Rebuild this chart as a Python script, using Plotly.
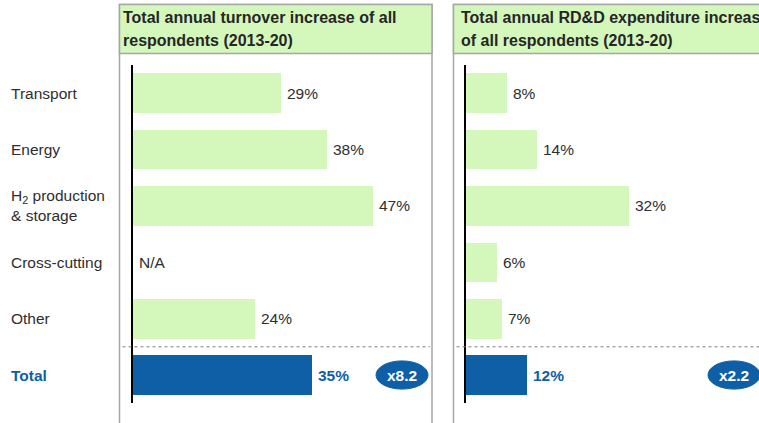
import plotly.graph_objects as go

W, H = 759, 423

categories = ['Transport', 'Energy', 'H<sub>2</sub> production<br>& storage',
              'Cross-cutting', 'Other', 'Total']
turnover = [29, 38, 47, None, 24, 35]
rdd = [8, 14, 32, 6, 7, 12]
multipliers = ['x8.2', 'x2.2']
titles = [['Total annual turnover increase of all', 'respondents (2013-20)'],
          ['Total annual RD&D expenditure increase', 'of all respondents (2013-20)']]

GREEN = '#D4F7BC'
BLUE = '#0F5FA6'
TXT = '#2E2E2E'
FONT = 'Arial, Liberation Sans, sans-serif'


def px(x):
    return x / W


def py(y):
    return 1 - y / H


ypos = list(range(len(categories)))
n_total = len(categories) - 1

fig = go.Figure()
shapes = []
annotations = []

# panel geometry (pixels): box left, box right, axis x, title x, ellipse centre
panels = [
    dict(box=(119.5, 432), axis=133, tx=123, ell=402, xa='x', ya='y', data=turnover),
    dict(box=(453.5, 800), axis=466, tx=461, ell=734, xa='x2', ya='y2', data=rdd),
]
scale = 5.1  # pixels per percent

for k, p in enumerate(panels):
    vals = p['data']
    colors = [BLUE if i == n_total else GREEN for i in ypos]
    fig.add_trace(go.Bar(
        x=[v if v is not None else 0 for v in vals], y=ypos, orientation='h',
        width=0.7, marker=dict(color=colors, line=dict(width=0)),
        xaxis=p['xa'], yaxis=p['ya'], hoverinfo='skip', showlegend=False,
    ))
    # value labels
    for i, v in enumerate(vals):
        tot = i == n_total
        label = 'N/A' if v is None else f'{v}%'
        annotations.append(dict(
            x=v or 0, y=i, xref=p['xa'], yref=p['ya'], text=f'<b>{label}</b>' if tot else label,
            showarrow=False, xanchor='left', yanchor='middle', xshift=4,
            font=dict(family=FONT, size=15.5, color=BLUE if tot else TXT)))

    # box + header
    x0, x1 = p['box']
    shapes.append(dict(type='rect', xref='paper', yref='paper', x0=px(x0), x1=px(x1),
                       y0=py(440), y1=py(4.5), line=dict(color='#A6A6A6', width=1.5),
                       fillcolor='rgba(0,0,0,0)', layer='below'))
    shapes.append(dict(type='rect', xref='paper', yref='paper', x0=px(x0), x1=px(x1),
                       y0=py(53.5), y1=py(4.5), line=dict(color='#A6A6A6', width=1.5),
                       fillcolor=GREEN, layer='below'))
    for j, line in enumerate(titles[k]):
        annotations.append(dict(
            x=px(p['tx']), y=py(18 + 22 * j), xref='paper', yref='paper',
            text=f'<b>{line}</b>', showarrow=False, xanchor='left', yanchor='middle',
            xshift=-2, font=dict(family=FONT, size=16, color='#262626')))

    # dashed separator before Total
    shapes.append(dict(type='line', xref='paper', yref=p['ya'],
                       x0=px(x0 + 3), x1=px(x1 - 2), y0=n_total - 0.5, y1=n_total - 0.5,
                       line=dict(color='#808080', width=1, dash='3px,3px')))

    # multiplier ellipse
    shapes.append(dict(type='circle', xref='paper', yref=p['ya'],
                       x0=px(p['ell'] - 26), x1=px(p['ell'] + 26),
                       y0=n_total - 0.25, y1=n_total + 0.25,
                       fillcolor=BLUE, line=dict(color=BLUE, width=1)))
    annotations.append(dict(
        x=px(p['ell']), y=n_total, xref='paper', yref=p['ya'],
        text=f'<b>{multipliers[k]}</b>', showarrow=False,
        xanchor='center', yanchor='middle',
        font=dict(family=FONT, size=15.5, color='white')))

# category labels
for i, c in enumerate(categories):
    tot = i == n_total
    annotations.append(dict(
        x=px(11), y=i, xref='paper', yref='y', text=f'<b>{c}</b>' if tot else c,
        showarrow=False, xanchor='left', yanchor='middle', align='left', xshift=-2,
        font=dict(family=FONT, size=15.5, color=BLUE if tot else TXT)))

ydom = [py(403.2), py(64.8)]
yax = dict(range=[5.5, -0.5], domain=ydom, showline=True, linecolor='black',
           linewidth=2, showticklabels=False, showgrid=False, zeroline=False, ticks='')
xax = dict(showline=False, showticklabels=False, showgrid=False, zeroline=False, ticks='')

fig.update_layout(
    width=W, height=H,
    margin=dict(l=0, r=0, t=0, b=0),
    paper_bgcolor='white', plot_bgcolor='rgba(0,0,0,0)',
    bargap=0,
    xaxis=dict(xax, domain=[px(133), px(432)], range=[0, (432 - 133) / scale], anchor='y'),
    xaxis2=dict(xax, domain=[px(466), 1], range=[0, (W - 466) / scale], anchor='y2'),
    yaxis=dict(yax, anchor='x'),
    yaxis2=dict(yax, anchor='x2', matches='y'),
    shapes=shapes,
    annotations=annotations,
    font=dict(family=FONT, color=TXT),
)

fig.write_html('out.html', config={'displayModeBar': False},
               post_script="document.body.style.margin='0';")
